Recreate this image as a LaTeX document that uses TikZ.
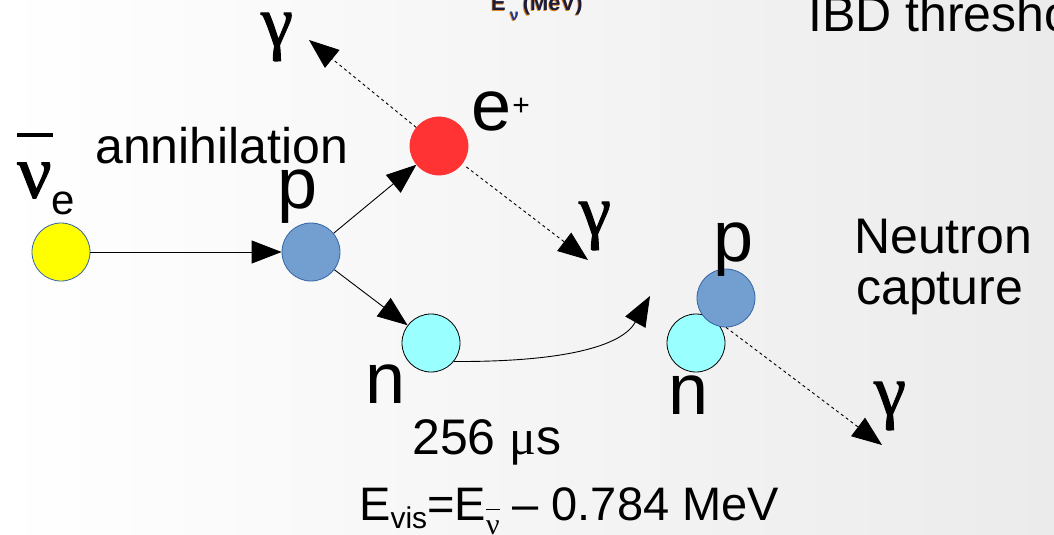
\documentclass[tikz,border=0pt]{standalone}
\usepackage{fontspec}
\setmainfont{Liberation Sans}
\newfontfamily\greekserif[FakeBold=1.5]{Liberation Serif}
\newfontfamily\greekplain{Liberation Serif}
\usetikzlibrary{arrows.meta}

\newcommand\fsz[1]{\fontsize{#1}{#1}\selectfont}
\newsavebox\nubarbox

\definecolor{nuyellow}{HTML}{FFFF00}
\definecolor{protonblue}{HTML}{729FCF}
\definecolor{protonedge}{HTML}{3465A4}
\definecolor{positronred}{HTML}{FF3333}
\definecolor{neutroncyan}{HTML}{99FFFF}
\definecolor{bgright}{HTML}{EBEBEB}
\definecolor{bgmid}{HTML}{F6F6F6}
\definecolor{axisink}{HTML}{1C1C3C}
\definecolor{axisnu}{HTML}{1F3A8A}
\definecolor{axisglow}{HTML}{E08A1E}

\begin{document}
\begin{tikzpicture}[x=1pt,y=-1pt,
  particle/.style={circle, minimum size=58pt, inner sep=0pt, line width=0.8pt},
  flow/.style={line width=0.9pt, -{Triangle[length=30pt,width=23pt]}},
  photon/.style={line width=0.9pt, dash pattern=on 3pt off 3pt,
                 -{Triangle[length=30pt,width=23pt]}},
  glyph/.style={inner sep=0pt, font=\fsz{72}},
  greek/.style={inner sep=0pt, font=\greekserif\fsz{72}},
  caption/.style={inner sep=0pt, anchor=base west, font=\fsz{50}},
]
% page and background shading
\useasboundingbox (0,0) rectangle (1054,535);
\shade[left color=white, middle color=bgmid, right color=bgright]
  (0,0) rectangle (1054,535);

% partially visible heading text
\node[inner sep=0pt, anchor=base west, font=\bfseries\fsz{22}, text=axisglow]
  at (490.2,11.6) {E\kern4pt\raisebox{-10pt}{\fsz{16}\color{axisglow}ν}\kern4pt(MeV)};
\node (axislbl) [inner sep=0pt, anchor=base west, font=\bfseries\fsz{22}, text=axisink]
  at (491,11) {E\kern4pt\raisebox{-10pt}{\fsz{16}\color{axisnu}ν}\kern4pt(MeV)};
\node (ibd) [caption] at (808,32) {IBD threshold};

% particles
\node (nu) [particle, fill=nuyellow, draw=protonedge] at (61,252) {};
\node (p)  [particle, fill=protonblue, draw=protonedge] at (311,252) {};
\node (e)  [particle, fill=positronred, draw=positronred] at (439,146) {};
\node (n)  [particle, fill=neutroncyan, draw=black] at (431,343) {};
\node (n2) [particle, fill=neutroncyan, draw=black] at (696,343) {};
\node (p2) [particle, fill=protonblue, draw=protonedge] at (726,298) {};

% free ends of the photons and of the drift curve
\coordinate (gup)   at (309,40);
\coordinate (gdown) at (588,260);
\coordinate (gcap)  at (882,445);
\coordinate (drift) at (650,296);

% reaction arrows
\draw[flow] (nu) -- (p);
\draw[flow] (p) -- (e);
\draw[flow] (p) -- (n);
\draw[flow] (n.-39) .. controls (565,362) and (622,346) .. (drift);

% annihilation and capture photons
\draw[photon] (e) -- (gup);
\draw[photon, shorten <=5pt] (e) -- (gdown);
\draw[photon] (p2.south) -- (gcap);

% particle labels
\node (nubar) [fill=black, inner sep=0pt, minimum width=36pt, minimum height=3.5pt]
  at (35,135) {};
\node (nulbl) [greek, font=\greekserif\fsz{76}] at (34.5,180.5) {ν};
\node (nusub) [inner sep=0pt, font=\fsz{42}] at (63,203) {e};
\node (plbl)  [glyph] at (298,197) {p};
\node (elbl)  [inner sep=0pt, anchor=base west, font=\fsz{72}]
  at (471,130) {e\kern1pt\raisebox{15pt}{\fsz{30}+}};
\node (nlbl)  [glyph] at (386,384.5) {n};
\node (p2lbl) [glyph] at (734,250) {p};
\node (n2lbl) [glyph] at (689,395) {n};
\node (g1) [greek] at (277,37) {γ};
\node (g2) [greek] at (595,226) {γ};
\node (g3) [greek] at (890,406) {γ};

% captions
\node (ann)  [caption] at (95,163) {annihilation};
\node (neut) [caption] at (854,253) {Neutron};
\node (capt) [caption] at (856,304) {capture};
\node (delay) [inner sep=0pt, anchor=base west, font=\fsz{50}]
  at (412,454) {256 {\greekplain\fsz{50}μ}s};
\node (evis) [inner sep=0pt, anchor=base west, font=\fsz{47}] at (359,520)
  {E\raisebox{-8pt}{\fsz{30}vis}=E%
   \sbox\nubarbox{\greekplain\fsz{30}ν}%
   \raisebox{-14pt}{\vbox{\hrule height 1.6pt width\wd\nubarbox\kern10pt\copy\nubarbox}}%
   \ – 0.784 MeV};
\end{tikzpicture}
\end{document}
